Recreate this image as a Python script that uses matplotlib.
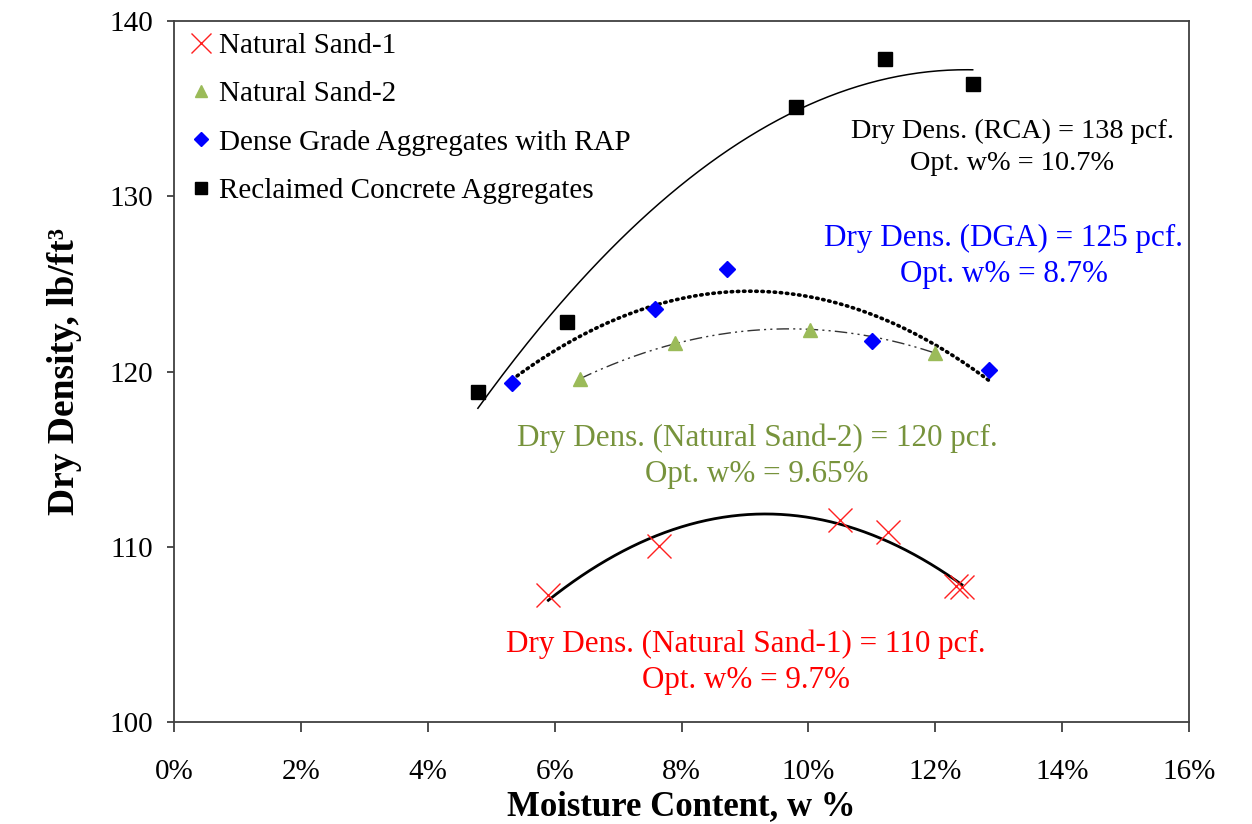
import numpy as np
import matplotlib
matplotlib.use("Agg")
import matplotlib.pyplot as plt
from matplotlib.ticker import PercentFormatter

plt.rcParams['font.family'] = ['Liberation Serif', 'DejaVu Serif']

# moisture content (%) and dry density (pcf)
ns1_w = [5.90, 7.64, 10.50, 11.25, 12.33, 12.42]
ns1_d = [107.25, 110.04, 111.53, 110.84, 107.75, 107.70]

ns2_w = [6.40, 7.90, 10.02, 12.00]
ns2_d = [119.57, 121.63, 122.37, 121.06]

dga_w = [5.33, 7.58, 8.72, 11.00, 12.85]
dga_d = [119.34, 123.57, 125.85, 121.74, 120.09]

rca_w = [4.79, 6.19, 9.80, 11.21, 12.59]
rca_d = [118.83, 122.82, 135.09, 137.83, 136.40]

def trend(ax, w, d, **kw):
    p = np.polyfit(w, d, 2)
    xs = np.linspace(min(w), max(w), 200)
    ax.plot(xs, np.polyval(p, xs), **kw)

fig = plt.figure(figsize=(12.52, 8.24), dpi=100)
ax = fig.add_axes([0.139, 0.1238, 0.8107, 0.8507])

trend(ax, rca_w, rca_d, color='black', lw=1.1, zorder=2)
trend(ax, dga_w, dga_d, color='black', lw=2.6, linestyle=(0, (0.4, 1.3)),
      dash_capstyle='round', zorder=2)
trend(ax, ns2_w, ns2_d, color='#333333', lw=1.0,
      linestyle=(0, (9, 3, 1.5, 3, 1.5, 3)), zorder=2)
trend(ax, ns1_w, ns1_d, color='black', lw=2.0, zorder=2)

ax.plot(ns1_w, ns1_d, 'x', color='#FF2020', ms=17, mew=1.0, ls='none',
        label='Natural Sand-1', zorder=3)
ax.plot(ns2_w, ns2_d, '^', color='#9BBB59', ms=10, ls='none',
        label='Natural Sand-2', zorder=3)
ax.plot(dga_w, dga_d, 'D', color='#0000FF', ms=8.5, ls='none',
        label='Dense Grade Aggregates with RAP', zorder=3)
ax.plot(rca_w, rca_d, 's', color='black', ms=9.5, ls='none',
        label='Reclaimed Concrete Aggregates', zorder=3)

ax.set_xlim(0, 16)
ax.set_ylim(100, 140)
ax.set_xticks(np.arange(0, 17, 2))
ax.set_yticks(np.arange(100, 141, 10))
ax.xaxis.set_major_formatter(PercentFormatter(xmax=100, decimals=0))
ax.tick_params(axis='both', labelsize=21, direction='out', color='#404040', width=1.3)
ax.tick_params(axis='x', length=7, pad=20)
ax.tick_params(axis='y', length=5, pad=10)
for s in ax.spines.values():
    s.set_color('#404040')
    s.set_linewidth(1.3)

ax.set_xlabel('Moisture Content, w %', fontsize=25, fontweight='bold', labelpad=3)
ax.set_ylabel('Dry Density, lb/ft³', fontsize=27, fontweight='bold', labelpad=20)

leg = ax.legend(loc='upper left', bbox_to_anchor=(0.006, 1.0), frameon=False,
                fontsize=21, handlelength=0.6, handletextpad=0.35, labelspacing=0.75,
                borderaxespad=0.3, borderpad=0.1, markerscale=0.85)

opts = dict(fontsize=22.4, ha='center', va='center', linespacing=1.32)
ax.text(13.21, 132.8, 'Dry Dens. (RCA) = 138 pcf.\nOpt. w% = 10.7%', color='black',
        fontsize=20.3, ha='center', va='center', linespacing=1.38)
ax.text(13.08, 126.56, 'Dry Dens. (DGA) = 125 pcf.\nOpt. w% = 8.7%', color='#0000FF', **opts)
ax.text(9.19, 115.18, 'Dry Dens. (Natural Sand-2) = 120 pcf.\nOpt. w% = 9.65%',
        color='#77933C', **opts)
ax.text(9.02, 103.42, 'Dry Dens. (Natural Sand-1) = 110 pcf.\nOpt. w% = 9.7%',
        color='#FF0000', **opts)

fig.savefig('out.png', dpi=100)
